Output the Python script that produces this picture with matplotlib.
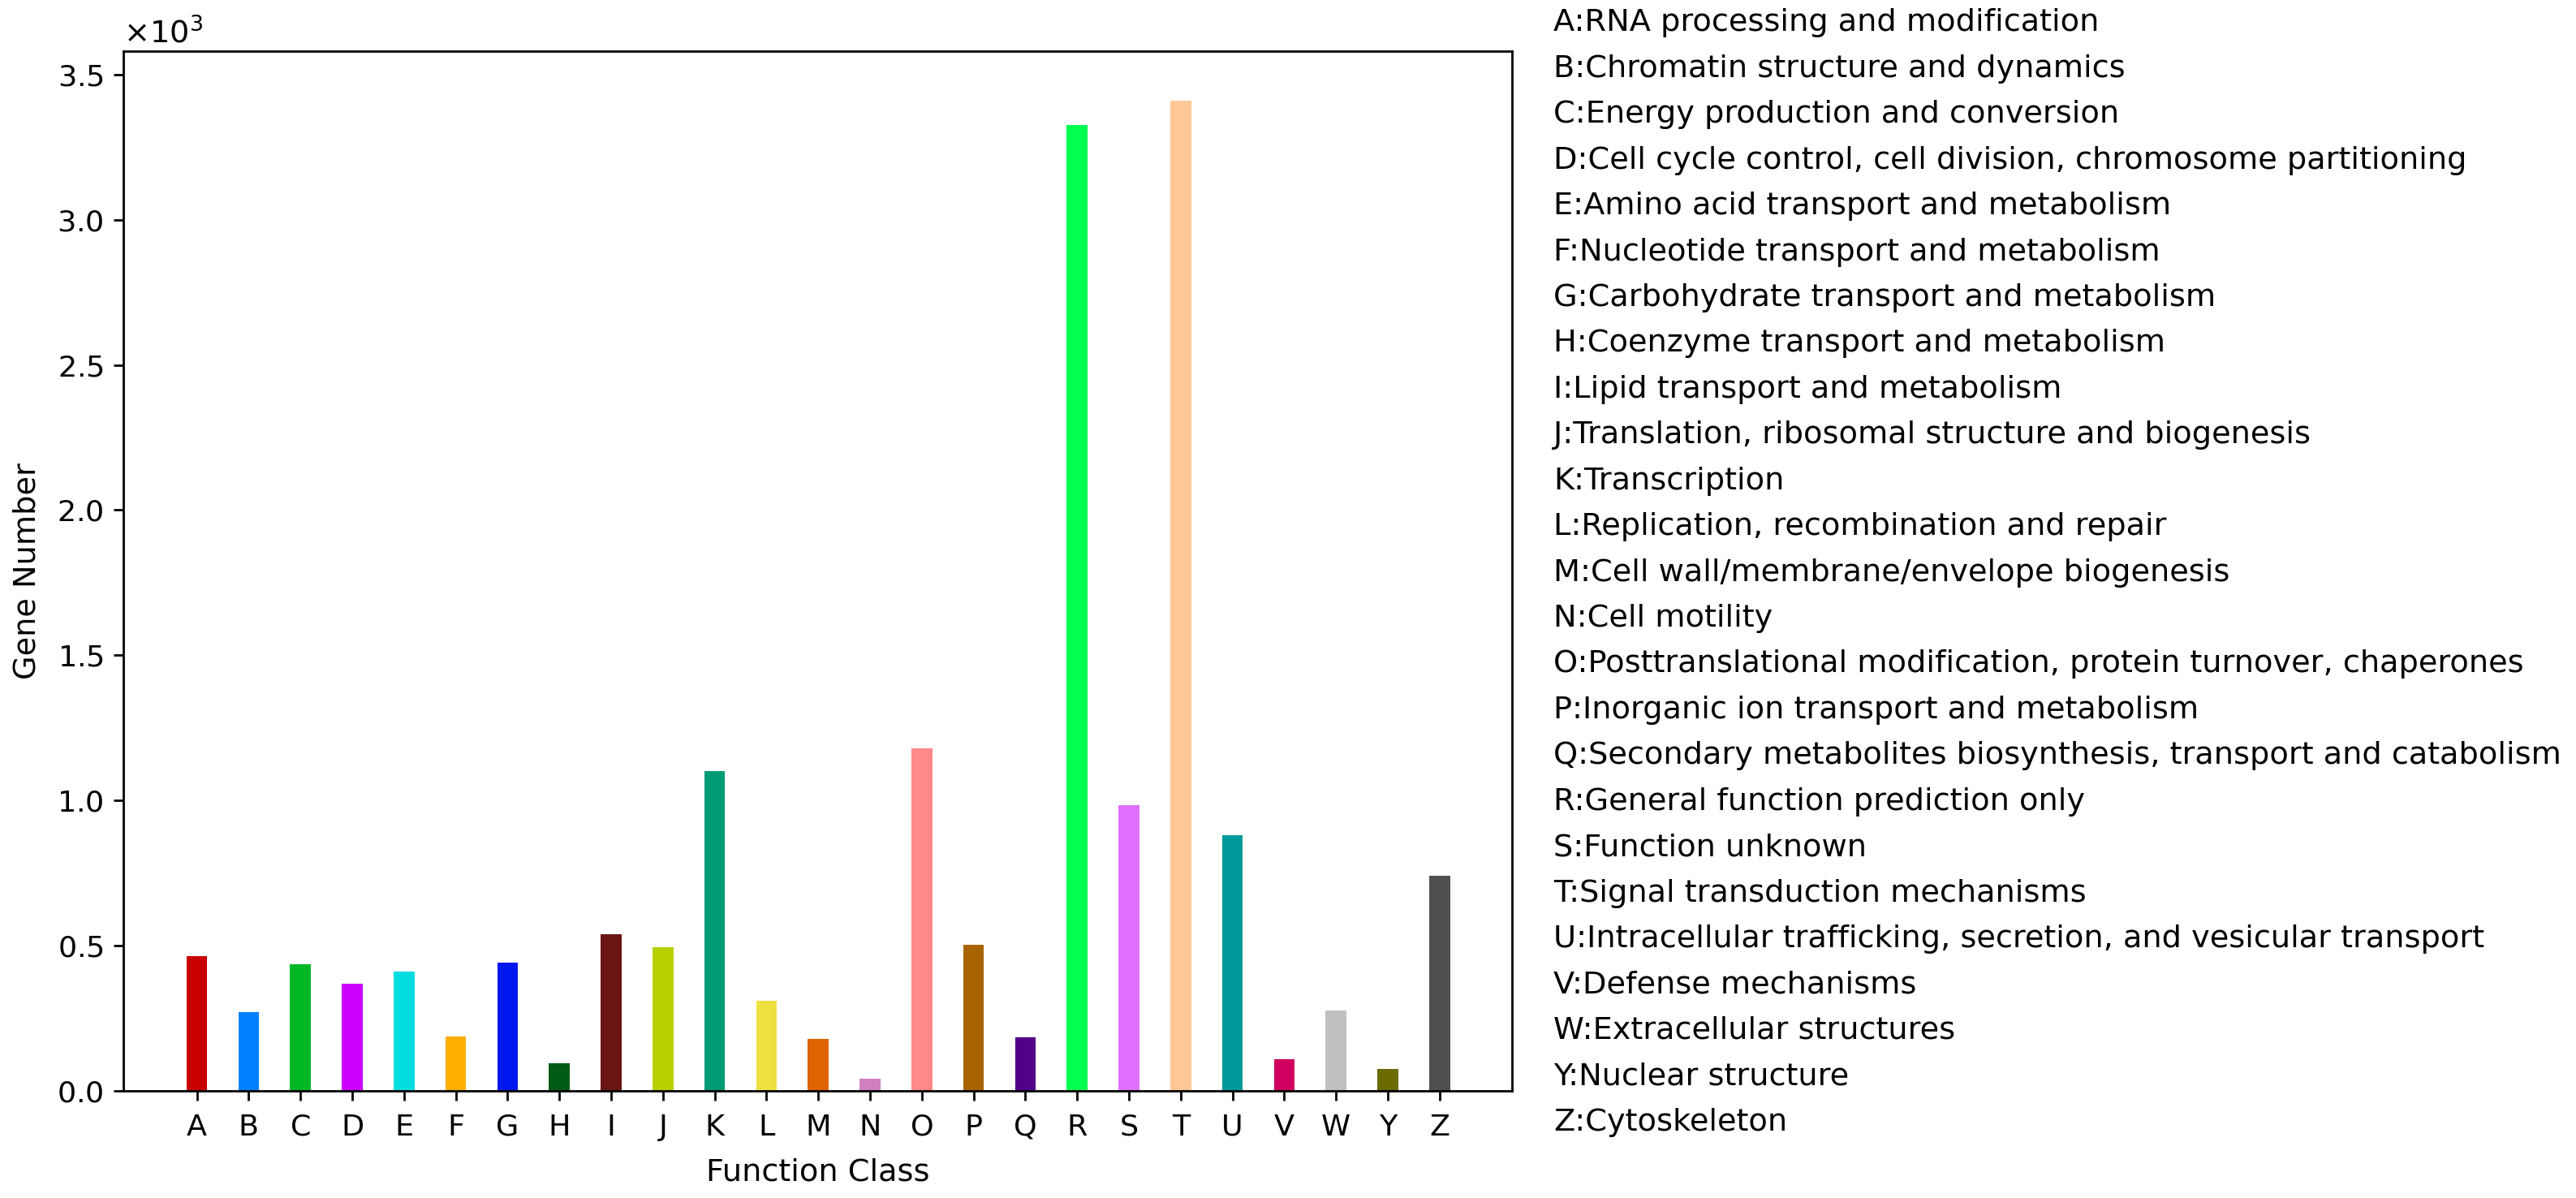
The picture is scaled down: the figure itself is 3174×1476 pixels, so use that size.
import matplotlib
matplotlib.use('Agg')
import matplotlib.pyplot as plt
from matplotlib.patches import Patch

# COG function classes
classes = ['A', 'B', 'C', 'D', 'E', 'F', 'G', 'H', 'I', 'J', 'K', 'L', 'M',
           'N', 'O', 'P', 'Q', 'R', 'S', 'T', 'U', 'V', 'W', 'Y', 'Z']
descriptions = [
    'RNA processing and modification',
    'Chromatin structure and dynamics',
    'Energy production and conversion',
    'Cell cycle control, cell division, chromosome partitioning',
    'Amino acid transport and metabolism',
    'Nucleotide transport and metabolism',
    'Carbohydrate transport and metabolism',
    'Coenzyme transport and metabolism',
    'Lipid transport and metabolism',
    'Translation, ribosomal structure and biogenesis',
    'Transcription',
    'Replication, recombination and repair',
    'Cell wall/membrane/envelope biogenesis',
    'Cell motility',
    'Posttranslational modification, protein turnover, chaperones',
    'Inorganic ion transport and metabolism',
    'Secondary metabolites biosynthesis, transport and catabolism',
    'General function prediction only',
    'Function unknown',
    'Signal transduction mechanisms',
    'Intracellular trafficking, secretion, and vesicular transport',
    'Defense mechanisms',
    'Extracellular structures',
    'Nuclear structure',
    'Cytoskeleton',
]
gene_counts = [463, 271, 435, 369, 410, 187, 443, 94, 539, 495, 1100, 309, 180,
               43, 1180, 502, 185, 3325, 985, 3410, 881, 108, 276, 75, 740]
colors = ['#c80000', '#0080ff', '#00b825', '#cc00ff', '#00dde0', '#ffae00',
          '#0018f0', '#005c14', '#6b1515', '#b8d000', '#009b74', '#ede040',
          '#dd6400', '#d080c0', '#ff8888', '#a86400', '#52008a', '#00ff50',
          '#e070ff', '#ffc896', '#009999', '#d00060', '#c0c0c0', '#6b6b00',
          '#505050']

plt.rcParams['xtick.labelsize'] = 10.5
plt.rcParams['ytick.labelsize'] = 10.5
plt.rcParams['xtick.major.pad'] = 4.5

fig = plt.figure(figsize=(3174 / 250, 1476 / 250), dpi=250)
ax = fig.add_axes([0.0479, 0.0894, 0.5391, 0.8679])

x = list(range(len(classes)))
ax.bar(x, gene_counts, width=0.4, color=colors)
ax.set_xticks(x)
ax.set_xticklabels(classes)
ax.set_xlim(-1.42, len(classes) - 1 + 1.4)
ax.ticklabel_format(axis='y', style='sci', scilimits=(0, 0), useMathText=True)
ax.yaxis.get_offset_text().set_fontsize(11)
ax.set_xlabel('Function Class', fontsize=11, labelpad=6)
ax.set_ylabel('Gene Number', fontsize=11, labelpad=5.5)

# description list on the right, drawn as a legend without handles
handles = [Patch(visible=False) for _ in classes]
labels = [f'{c}:{d}' for c, d in zip(classes, descriptions)]
fig.legend(handles, labels, loc='upper left', bbox_to_anchor=(0.603, 0.993),
           frameon=False, handlelength=0, handletextpad=0,
           borderpad=0, borderaxespad=0, fontsize=11, labelspacing=0.535)

fig.savefig('out.png', dpi=250)
